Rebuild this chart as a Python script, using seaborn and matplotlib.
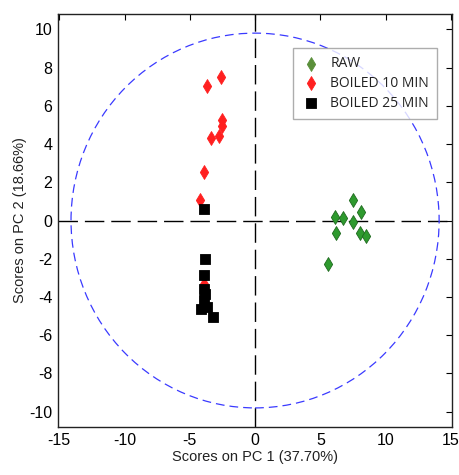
import numpy as np
import pandas as pd
import matplotlib
matplotlib.use("Agg")
import matplotlib.pyplot as plt
from matplotlib.patches import Ellipse
import seaborn as sns

# Data
raw_pc1 = [7.54, 8.08, 6.12, 6.73, 7.50, 6.22, 8.03, 8.49, 5.61]
raw_pc2 = [1.08, 0.42, 0.21, 0.14, -0.10, -0.63, -0.66, -0.82, -2.29]
b10_pc1 = [-2.63, -3.65, -2.50, -2.50, -2.79, -3.40, -3.88, -4.24, -3.95]
b10_pc2 = [7.50, 7.03, 5.27, 4.92, 4.40, 4.31, 2.53, 1.06, -3.32]
b25_pc1 = [-3.93, -3.85, -3.93, -3.85, -3.90, -3.95, -4.18, -3.65, -3.24]
b25_pc2 = [0.58, -1.99, -2.83, -3.84, -3.60, -4.15, -4.64, -4.50, -5.06]
groups = ["RAW", "BOILED 10 MIN", "BOILED 25 MIN"]
xticks = [-15, -10, -5, 0, 5, 10, 15]
yticks = [-10, -8, -6, -4, -2, 0, 2, 4, 6, 8, 10]
ellipse_rx, ellipse_ry = 14.1, 9.8

df = pd.concat([
    pd.DataFrame({"pc1": raw_pc1, "pc2": raw_pc2, "group": groups[0]}),
    pd.DataFrame({"pc1": b10_pc1, "pc2": b10_pc2, "group": groups[1]}),
    pd.DataFrame({"pc1": b25_pc1, "pc2": b25_pc2, "group": groups[2]}),
], ignore_index=True)

sns.set_style("white")
plt.rcParams['font.family'] = ['Liberation Sans', 'DejaVu Sans']
plt.rcParams['axes.unicode_minus'] = False

fig = plt.figure(figsize=(4.6, 4.75), dpi=100)
ax = fig.add_axes([0.126, 0.101, 0.857, 0.8695])

ax.axhline(0, color="black", lw=1.0, dashes=(14, 5), zorder=1)
ax.axvline(0, color="black", lw=1.0, dashes=(14, 5), zorder=1)
ax.add_patch(Ellipse((0, 0), 2 * ellipse_rx, 2 * ellipse_ry, fill=False,
                     edgecolor="#3a3aff", lw=0.9, linestyle=(0, (7, 4)), zorder=1))

palette = {"RAW": "#2e9a2e", "BOILED 10 MIN": "#ff2020", "BOILED 25 MIN": "#000000"}
markers = {"RAW": "d", "BOILED 10 MIN": "d", "BOILED 25 MIN": "s"}
edges = {"RAW": "#1f6a1f", "BOILED 10 MIN": "#ff2020", "BOILED 25 MIN": "#000000"}
sizes = {"RAW": 50, "BOILED 10 MIN": 50, "BOILED 25 MIN": 45}
for g in groups:
    sub = df[df.group == g]
    sns.scatterplot(data=sub, x="pc1", y="pc2", color=palette[g], marker=markers[g],
                    s=sizes[g], edgecolor=edges[g],
                    linewidth=0.6, ax=ax, label=g, zorder=3)

ax.set_xlim(-15.1, 15.1)
ax.set_ylim(-10.8, 10.8)
ax.set_xticks(xticks)
ax.set_yticks(yticks)
ax.tick_params(direction="in", length=4, width=0.8, top=True, right=True,
               labelsize=11.5, colors="black", pad=4)
for s in ax.spines.values():
    s.set_color("#222222")
    s.set_linewidth(1.0)
ax.set_xlabel("Scores on PC 1 (37.70%)", fontsize=10.5, color="#222222", labelpad=2)
ax.set_ylabel("Scores on PC 2 (18.66%)", fontsize=10.5, color="#222222", labelpad=2)

handles, labels = ax.get_legend_handles_labels()
leg = ax.legend(handles, labels, loc="upper left", bbox_to_anchor=(0.596, 0.918),
                borderaxespad=0.0,
                frameon=True, fancybox=False, edgecolor="#999999",
                prop={"family": ["Open Sans", "DejaVu Sans"], "size": 10},
                handletextpad=0.7, borderpad=0.6, labelspacing=0.35, handlelength=1.4)
leg.get_frame().set_linewidth(1.0)
leg.legend_handles[0].set_color("#5a8f3a")
for t in leg.get_texts():
    t.set_color("#222222")

fig.savefig("out.png", dpi=100)
